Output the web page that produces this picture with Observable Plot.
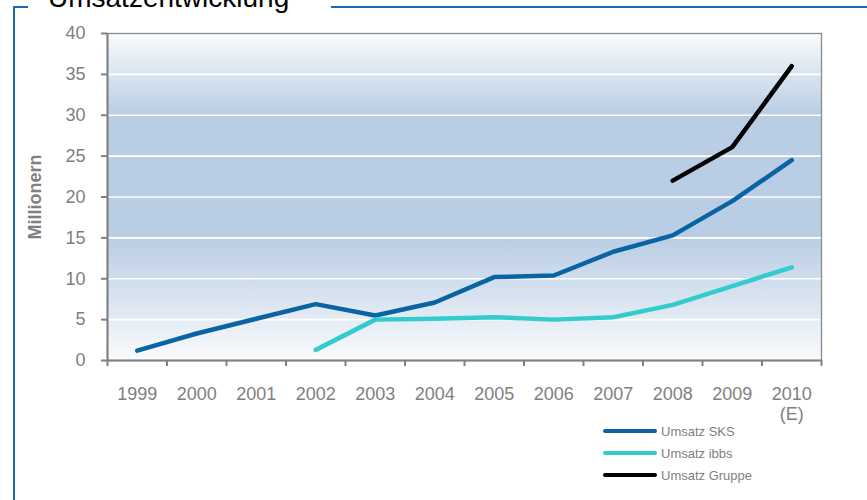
<!DOCTYPE html>
<html>
<head>
<meta charset="utf-8">
<script src="https://cdn.jsdelivr.net/npm/d3@7"></script>
<script src="https://cdn.jsdelivr.net/npm/@observablehq/plot@0.6"></script>
<style>
  html, body { margin: 0; padding: 0; background: #fff; }
  #wrap { position: relative; width: 867px; height: 500px; overflow: hidden; font-family: Arial, "Liberation Sans", sans-serif; }
  #chart { position: absolute; left: 0; top: 0; }
  .frame { position: absolute; background: #1c6ab0; }
  #title { position: absolute; left: 48px; top: -16px; font-size: 28px; line-height: 28px; color: #000; white-space: nowrap; }
  .leg { position: absolute; left: 603px; height: 20px; display: flex; align-items: center; font-size: 13px; color: #7f7f7f; white-space: nowrap; }
  .leg span.sw { display: inline-block; width: 54px; height: 4px; border-radius: 2px; margin-right: 4px; }
</style>
</head>
<body>
<div id="wrap">
  <div class="frame" style="left:13px; top:6px; width:2px; height:500px;"></div>
  <div class="frame" style="left:13px; top:6px; width:15px; height:2px;"></div>
  <div class="frame" style="left:331px; top:6px; width:540px; height:2px;"></div>
  <div id="title">Umsatzentwicklung</div>
  <div id="chart"></div>
  <div id="legend"></div>
</div>
<script>
const years = [1999, 2000, 2001, 2002, 2003, 2004, 2005, 2006, 2007, 2008, 2009, 2010];
const yearLabels = ["1999", "2000", "2001", "2002", "2003", "2004", "2005", "2006", "2007", "2008", "2009", "2010\n(E)"];
const seriesNames = ["Umsatz SKS", "Umsatz ibbs", "Umsatz Gruppe"];
const seriesColors = ["#0a63a3", "#33cccc", "#000000"];
const umsatzSKS = [1.2, 3.3, 5.1, 6.9, 5.5, 7.1, 10.2, 10.4, 13.3, 15.3, 19.5, 24.5];
const umsatzIbbs = [null, null, null, 1.3, 5.0, 5.1, 5.3, 5.0, 5.3, 6.8, 9.1, 11.4];
const umsatzGruppe = [null, null, null, null, null, null, null, null, null, 22.0, 26.1, 36.0];
const yTicks = [0, 5, 10, 15, 20, 25, 30, 35, 40];
const gridValues = [5, 10, 15, 20, 25, 30, 35];

const allSeries = [umsatzSKS, umsatzIbbs, umsatzGruppe];
const rows = [];
allSeries.forEach((vals, si) => {
  vals.forEach((v, i) => {
    if (v != null) rows.push({year: years[i], value: v, series: seriesNames[si]});
  });
});
const boundaries = [...years.map(y => y - 0.5), years[years.length - 1] + 0.5];
const labelMap = new Map(years.map((y, i) => [y, yearLabels[i]]));

const plot = Plot.plot({
  width: 867,
  height: 500,
  marginLeft: 107,
  marginRight: 46,
  marginTop: 33,
  marginBottom: 140,
  style: {fontFamily: "Arial, 'Liberation Sans', sans-serif", background: "transparent"},
  x: {type: "linear", domain: [years[0] - 0.5, years[years.length - 1] + 0.5]},
  y: {domain: [0, 40]},
  color: {domain: seriesNames, range: seriesColors},
  marks: [
    Plot.frame({fill: "url(#bgGrad)"}),
    Plot.ruleY(gridValues, {stroke: "#ffffff", strokeWidth: 1.6}),
    Plot.frame({stroke: "#8a8a8a", strokeWidth: 1.3}),
    Plot.axisY({ticks: yTicks, tickSize: 6, tickPadding: 16, fontSize: 18, color: "#808080", stroke: "#808080", strokeWidth: 2, label: null, tickFormat: d => String(d)}),
    Plot.axisX({ticks: boundaries, tickSize: 6, tickFormat: () => "", stroke: "#808080", strokeWidth: 2, label: null}),
    Plot.axisX({ticks: years, tickSize: 0, tickPadding: 26, fontSize: 18, lineHeight: 1.08, color: "#808080", label: null, tickFormat: d => labelMap.get(d)}),
    Plot.ruleX([years[0] - 0.5], {stroke: "#808080", strokeWidth: 2}),
    Plot.ruleY([0], {stroke: "#808080", strokeWidth: 2}),
    Plot.text(["Millionern"], {frameAnchor: "left", textAnchor: "middle", dx: -72, rotate: -90, fontSize: 18, fontWeight: "bold", fill: "#7f7f7f", text: d => d}),
    Plot.line(rows, {x: "year", y: "value", z: "series", stroke: "series", strokeWidth: 4.5, strokeLinecap: "round", strokeLinejoin: "round"})
  ]
});

const svg = d3.select(plot);
const defs = svg.insert("defs", ":first-child");
const grad = defs.append("linearGradient").attr("id", "bgGrad").attr("x1", 0).attr("y1", 0).attr("x2", 0).attr("y2", 1);
[[0, "#f9fbfd"], [0.25, "#b9cde4"], [0.62, "#b9cde4"], [1, "#f9fbfd"]].forEach(([o, c]) => {
  grad.append("stop").attr("offset", o).attr("stop-color", c);
});
document.getElementById("chart").appendChild(plot);

const legend = document.getElementById("legend");
const legendTops = [421, 443, 465];
seriesNames.forEach((name, i) => {
  const d = document.createElement("div");
  d.className = "leg";
  d.style.top = legendTops[i] + "px";
  const sw = document.createElement("span");
  sw.className = "sw";
  sw.style.background = seriesColors[i];
  d.appendChild(sw);
  d.appendChild(document.createTextNode(name));
  legend.appendChild(d);
});
</script>
</body>
</html>
